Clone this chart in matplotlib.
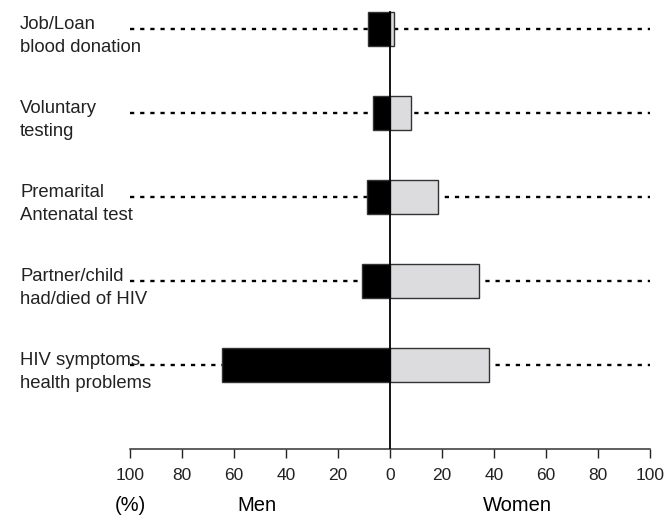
import matplotlib
matplotlib.use('Agg')
import matplotlib.pyplot as plt
import matplotlib.transforms as mtransforms
import numpy as np

plt.rcParams['font.family'] = ['Liberation Sans', 'DejaVu Sans']

# reasons for HIV testing, top to bottom
reasons = ['Job/Loan\nblood donation',
           'Voluntary\ntesting',
           'Premarital\nAntenatal test',
           'Partner/child\nhad/died of HIV',
           'HIV symptoms\nhealth problems']
men = [8.4, 6.6, 8.7, 10.8, 64.7]
women = [1.7, 8.2, 18.5, 34.2, 38.2]
ticks = [-100, -80, -60, -40, -20, 0, 20, 40, 60, 80, 100]
tick_labels = [str(abs(t)) for t in ticks]

fig = plt.figure(figsize=(6.67, 5.15), dpi=100)
ax = fig.add_axes([130/667, 1 - 449/515, 520/667, 449/515])

n = len(reasons)
ypos = np.arange(n, 0, -1)

# dotted guide lines behind the bars
for y in ypos:
    ax.plot([-100, 100], [y, y], color='black', lw=1.7, dashes=(1.8, 2.5), zorder=1)

ax.barh(ypos, [-m for m in men], height=0.41, color='black', edgecolor='#333333', lw=1, zorder=2)
ax.barh(ypos, women, height=0.41, color='#dcdcde', edgecolor='#333333', lw=1, zorder=2)

# center line
ax.plot([0, 0], [0, ypos[0] + 0.205], color='black', lw=1.3, zorder=3)

trans = mtransforms.blended_transform_factory(fig.transFigure, ax.transData)
for y, lab in zip(ypos, reasons):
    ax.text(20/667, y - 0.085, lab, transform=trans, ha='left', va='center',
            fontsize=13.3, linespacing=1.45, color='#222222')

ax.set_xlim(-100, 100)
ax.set_ylim(0, 449/84)
ax.set_xticks(ticks)
ax.set_xticklabels(tick_labels, fontsize=12.5)
ax.set_yticks([])
ax.tick_params(axis='x', length=6.5, width=1, pad=7, colors='#222222')
for s in ['left', 'right', 'top']:
    ax.spines[s].set_visible(False)
ax.spines['bottom'].set_linewidth(1.1)
ax.spines['bottom'].set_color('#333333')

# bottom captions (kept just inside the lower edge)
trans2 = mtransforms.blended_transform_factory(ax.transData, fig.transFigure)
cap_y = 4/515
ax.text(-100, cap_y, '(%)', transform=trans2, ha='center', va='baseline', fontsize=14.5)
ax.text(-51, cap_y, 'Men', transform=trans2, ha='center', va='baseline', fontsize=14.5)
ax.text(49, cap_y, 'Women', transform=trans2, ha='center', va='baseline', fontsize=14.5)

fig.savefig('out.png', dpi=100)
